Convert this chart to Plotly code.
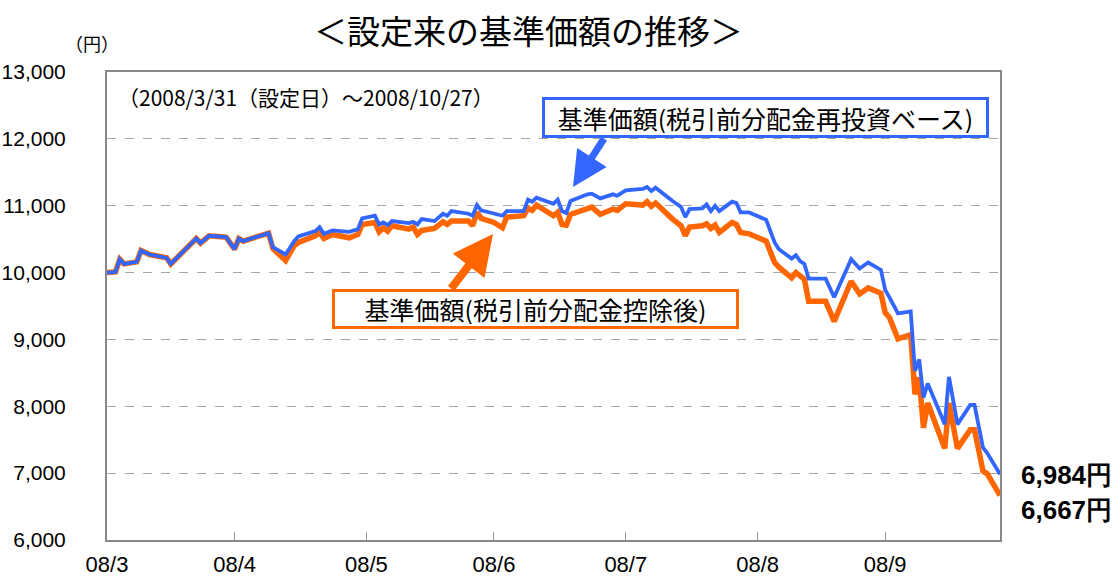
import plotly.graph_objects as go

dates = [
    "2008-03-31", "2008-04-02", "2008-04-03", "2008-04-04", "2008-04-07", "2008-04-08",
    "2008-04-10", "2008-04-14", "2008-04-15", "2008-04-21", "2008-04-22", "2008-04-24",
    "2008-04-28", "2008-04-30", "2008-05-01", "2008-05-02", "2008-05-08", "2008-05-09",
    "2008-05-12", "2008-05-14", "2008-05-15", "2008-05-19", "2008-05-20", "2008-05-21",
    "2008-05-23", "2008-05-27", "2008-05-29", "2008-05-30", "2008-06-02", "2008-06-03",
    "2008-06-04", "2008-06-05", "2008-06-06", "2008-06-10", "2008-06-11", "2008-06-12",
    "2008-06-13", "2008-06-16", "2008-06-18", "2008-06-19", "2008-06-20", "2008-06-24",
    "2008-06-25", "2008-06-26", "2008-06-27", "2008-06-30", "2008-07-02", "2008-07-03",
    "2008-07-07", "2008-07-08", "2008-07-09", "2008-07-10", "2008-07-14", "2008-07-15",
    "2008-07-16", "2008-07-17", "2008-07-18", "2008-07-22", "2008-07-23", "2008-07-25",
    "2008-07-28", "2008-07-29", "2008-07-31", "2008-08-04", "2008-08-05", "2008-08-06",
    "2008-08-07", "2008-08-11", "2008-08-13", "2008-08-14", "2008-08-15", "2008-08-18",
    "2008-08-19", "2008-08-20", "2008-08-21", "2008-08-22", "2008-08-25", "2008-08-26",
    "2008-08-27", "2008-08-29", "2008-09-01", "2008-09-02", "2008-09-04", "2008-09-05",
    "2008-09-08", "2008-09-09", "2008-09-10", "2008-09-11", "2008-09-12", "2008-09-16",
    "2008-09-18", "2008-09-22", "2008-09-24", "2008-09-26", "2008-09-29", "2008-09-30",
    "2008-10-01", "2008-10-03", "2008-10-06", "2008-10-07", "2008-10-08", "2008-10-09",
    "2008-10-10", "2008-10-14", "2008-10-15", "2008-10-17", "2008-10-20", "2008-10-21",
    "2008-10-23", "2008-10-24", "2008-10-27",
]

nav_reinvested = [
    10000, 10010, 10200, 10130, 10160, 10330, 10270, 10220, 10130, 10510, 10440, 10550,
    10530, 10350, 10510, 10470, 10590, 10380, 10270, 10470, 10540, 10620, 10680, 10580,
    10630, 10610, 10650, 10810, 10850, 10720, 10750, 10710, 10770, 10740, 10760, 10720,
    10800, 10770, 10880, 10850, 10920, 10880, 10850, 11010, 10930, 10880, 10850, 10920,
    10920, 11090, 11060, 11120, 11030, 11090, 10920, 10890, 11070, 11170, 11180, 11110,
    11170, 11150, 11230, 11250, 11280, 11220, 11270, 11070, 10980, 10830, 10950, 10960,
    11020, 10920, 11000, 10920, 11060, 11040, 10900, 10900, 10810, 10790, 10450, 10350,
    10210, 10260, 10170, 10130, 9910, 9910, 9630, 10200, 10060, 10150, 10040, 9740,
    9630, 9390, 9420, 8530, 8700, 8130, 8340, 7730, 8440, 7730, 8020, 8020,
    7380, 7300, 6984,
]

nav_after_dist = [
    10000, 10010, 10200, 10130, 10160, 10330, 10270, 10220, 10130, 10510, 10440, 10550,
    10530, 10350, 10510, 10470, 10590, 10360, 10180, 10400, 10450, 10550, 10600, 10510,
    10570, 10520, 10570, 10720, 10750, 10610, 10670, 10620, 10700, 10650, 10680, 10570,
    10630, 10660, 10760, 10720, 10770, 10770, 10700, 10900, 10810, 10750, 10670, 10830,
    10850, 10960, 10930, 11010, 10850, 10900, 10720, 10710, 10870, 10950, 10980, 10870,
    10950, 10930, 11030, 11010, 11060, 10990, 11040, 10800, 10700, 10550, 10680, 10700,
    10730, 10660, 10710, 10600, 10750, 10720, 10600, 10580, 10500, 10470, 10150, 10080,
    9920, 10000, 9950, 9900, 9570, 9570, 9270, 9870, 9680, 9770, 9690, 9400,
    9330, 9010, 9070, 8180, 8430, 7680, 8050, 7370, 8050, 7370, 7650, 7650,
    7030, 6990, 6667,
]

tick_dates = ["2008-03-31", "2008-04-30", "2008-05-31", "2008-06-30",
              "2008-07-31", "2008-08-31", "2008-09-30"]
tick_labels = ["08/3", "08/4", "08/5", "08/6", "08/7", "08/8", "08/9"]
y_ticks = [6000, 7000, 8000, 9000, 10000, 11000, 12000, 13000]

BLUE = "#3366FF"
ORANGE = "#FF6600"
NUM_FONT = "Liberation Sans, Arial, sans-serif"
JP_FONT = "Noto Sans CJK JP, sans-serif"

W, H = 1119, 579
ML, MR, MT, MB = 107, 119, 72, 39
PW, PH = W - ML - MR, H - MT - MB


def px(x):
    return (x - ML) / PW


def py(y):
    return (H - MB - y) / PH


fig = go.Figure()
fig.add_trace(go.Scatter(x=dates, y=nav_after_dist, mode="lines",
                         line=dict(color=ORANGE, width=5.5), name="基準価額(税引前分配金控除後)"))
fig.add_trace(go.Scatter(x=dates, y=nav_reinvested, mode="lines",
                         line=dict(color=BLUE, width=3.8), name="基準価額(税引前分配金再投資ベース)"))

fig.update_layout(
    width=W, height=H,
    margin=dict(l=ML, r=MR, t=MT, b=MB, autoexpand=False),
    paper_bgcolor="white", plot_bgcolor="white",
    showlegend=False,
    font=dict(family=NUM_FONT, color="black"),
)
fig.update_xaxes(
    type="date", range=["2008-03-31", "2008-10-27"],
    tickvals=tick_dates, ticktext=tick_labels,
    ticks="inside", ticklen=8, tickcolor="#999999", tickwidth=1,
    showgrid=False, showline=True, linecolor="#888888", linewidth=2, mirror=True,
    tickfont=dict(size=22, family=NUM_FONT), ticklabelstandoff=4, automargin=False,
)
fig.update_yaxes(
    range=[6000, 13000], tickvals=y_ticks, tickformat=",",
    showgrid=True, gridcolor="#a6a6a6", griddash="dash", gridwidth=1,
    showline=True, linecolor="#888888", linewidth=2, mirror=True,
    tickfont=dict(size=21, family=NUM_FONT), ticks="", ticklabelstandoff=35,
    zeroline=False, automargin=False,
)


def label(text, x, y, size, family=JP_FONT, xanchor="center", **kw):
    return dict(text=text, xref="paper", yref="paper", x=px(x), y=py(y),
                xanchor=xanchor, yanchor="middle", showarrow=False,
                font=dict(size=size, family=family, color="black"), **kw)


ann = [
    label("＜設定来の基準価額の推移＞", 528, 30, 33),
    label("（円）", 92, 43, 18),
    label("（2008/3/31（設定日）～2008/10/27）", 116, 97, 21, xanchor="left"),
    label("基準価額(税引前分配金再投資ベース)", 765.5, 117, 25, width=437, height=31,
          bordercolor=BLUE, borderwidth=3, borderpad=2, bgcolor="white"),
    label("基準価額(税引前分配金控除後)", 535.5, 308.5, 25, width=397, height=30,
          bordercolor=ORANGE, borderwidth=3, borderpad=2, bgcolor="white"),
    label("<b>6,984円</b>", 1066, 475, 26, family=NUM_FONT),
    label("<b>6,667円</b>", 1066, 510, 26, family=NUM_FONT),
    # arrows
    dict(text="", xref="paper", yref="paper", x=px(573), y=py(187),
         ax=32, ay=-50, showarrow=True, arrowhead=2, arrowsize=1,
         arrowwidth=7, arrowcolor=BLUE),
    dict(text="", xref="paper", yref="paper", x=px(493), y=py(234),
         ax=-43, ay=56, showarrow=True, arrowhead=2, arrowsize=1,
         arrowwidth=8, arrowcolor=ORANGE),
]
fig.update_layout(annotations=ann)

fig.write_html("out.html", config={"displayModeBar": False},
               post_script="document.body.style.margin='0';document.body.style.overflow='hidden';")
